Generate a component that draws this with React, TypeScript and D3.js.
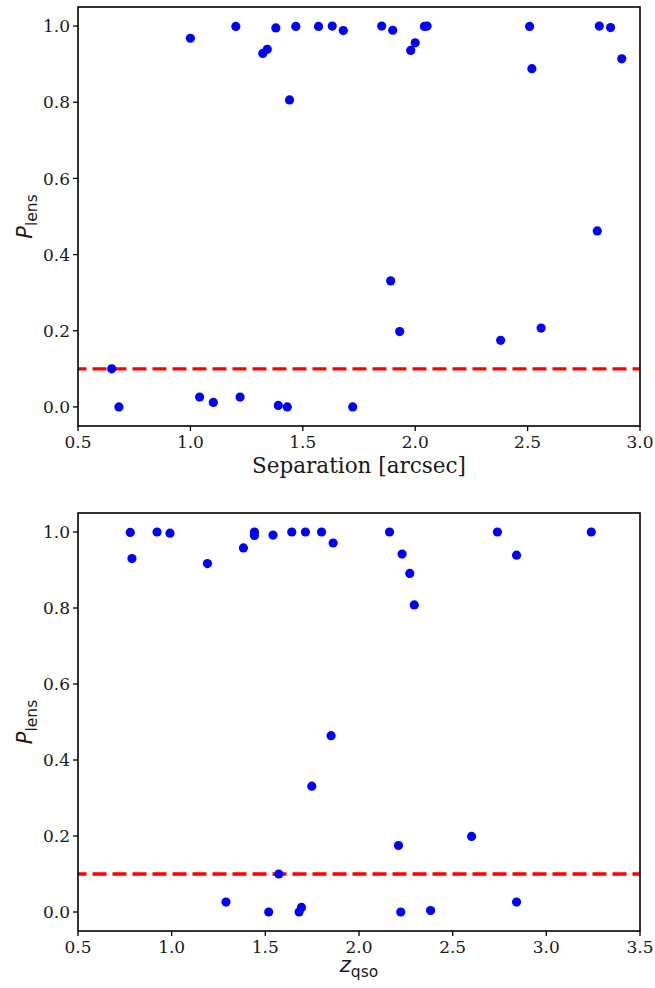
import React from "react";
import * as d3 from "d3";

const sepX = [0.650, 0.682, 1.000, 1.041, 1.102, 1.202, 1.221, 1.322, 1.342, 1.380, 1.391, 1.431, 1.441, 1.469, 1.570, 1.631, 1.680, 1.722, 1.851, 1.891, 1.900, 1.931, 1.980, 2.000, 2.041, 2.053, 2.380, 2.509, 2.519, 2.560, 2.810, 2.819, 2.869, 2.919];
const sepP = [0.100, 0.000, 0.968, 0.026, 0.012, 0.999, 0.026, 0.928, 0.939, 0.995, 0.004, 0.000, 0.806, 0.999, 0.999, 1.000, 0.988, 0.000, 1.000, 0.331, 0.989, 0.198, 0.936, 0.956, 0.999, 1.000, 0.175, 0.999, 0.888, 0.207, 0.462, 1.000, 0.996, 0.914];

const zX = [0.779, 0.788, 0.922, 0.991, 1.191, 1.290, 1.383, 1.442, 1.442, 1.518, 1.541, 1.572, 1.641, 1.680, 1.693, 1.714, 1.748, 1.800, 1.851, 1.862, 2.163, 2.211, 2.223, 2.230, 2.271, 2.295, 2.382, 2.601, 2.739, 2.841, 2.841, 3.240];
const zP = [0.999, 0.930, 1.000, 0.997, 0.917, 0.026, 0.958, 1.000, 0.991, 0.000, 0.992, 0.100, 1.000, 0.000, 0.012, 1.000, 0.331, 1.000, 0.464, 0.971, 1.000, 0.175, 0.000, 0.942, 0.891, 0.808, 0.004, 0.199, 1.000, 0.939, 0.026, 1.000];

const yTicks = [0.0, 0.2, 0.4, 0.6, 0.8, 1.0];
const sepTicks = [0.5, 1.0, 1.5, 2.0, 2.5, 3.0];
const zTicks = [0.5, 1.0, 1.5, 2.0, 2.5, 3.0, 3.5];
const threshold = 0.1;

const serif = "'DejaVu Serif', serif";
const sans = "'DejaVu Sans', sans-serif";
const ink = "#1a1a1a";

type PanelProps = {
  xs: number[];
  ps: number[];
  xDomain: [number, number];
  xTicks: number[];
  top: number;
  bottom: number;
  xLabel: React.ReactNode;
};

function Panel({ xs, ps, xDomain, xTicks, top, bottom, xLabel }: PanelProps) {
  const left = 78;
  const right = 640;
  const x = d3.scaleLinear().domain(xDomain).range([left, right]);
  const y = d3.scaleLinear().domain([-0.05, 1.05]).range([bottom, top]);
  const cy = (top + bottom) / 2;
  return (
    <g>
      <line
        x1={left}
        x2={right}
        y1={y(threshold)}
        y2={y(threshold)}
        stroke="#ff0000"
        strokeWidth={3.3}
        strokeDasharray="14 6"
        strokeDashoffset={5.5}
      />
      {xs.map((v, i) => (
        <circle key={i} cx={x(v)} cy={y(ps[i])} r={4.6} fill="#0000ff" />
      ))}
      <rect x={left} y={top} width={right - left} height={bottom - top} fill="none" stroke="#000" strokeWidth={1.6} />
      {xTicks.map((t) => (
        <g key={"x" + t}>
          <line x1={x(t)} x2={x(t)} y1={bottom} y2={bottom + 5} stroke="#000" strokeWidth={1.3} />
          <text x={x(t)} y={bottom + 22} textAnchor="middle" fontFamily={serif} fontSize={17} fill={ink}>
            {t.toFixed(1)}
          </text>
        </g>
      ))}
      {yTicks.map((t) => (
        <g key={"y" + t}>
          <line x1={left - 5} x2={left} y1={y(t)} y2={y(t)} stroke="#000" strokeWidth={1.3} />
          <text x={left - 8} y={y(t)} dy="0.36em" textAnchor="end" fontFamily={serif} fontSize={17} fill={ink}>
            {t.toFixed(1)}
          </text>
        </g>
      ))}
      <g transform={`translate(32,${cy}) rotate(-90)`}>
        <text textAnchor="middle" fontFamily={sans} fill={ink}>
          <tspan fontStyle="italic" fontSize={21}>P</tspan>
          <tspan fontSize={15.5} dy={4.5}>lens</tspan>
        </text>
      </g>
      {xLabel}
    </g>
  );
}

export default function App() {
  return (
    <svg
      width={655}
      height={988}
      viewBox="0 0 655 988"
      style={{ position: "absolute", left: 0, top: 0, background: "#fff" }}
    >
      <rect width={655} height={988} fill="#fff" />
      <Panel
        xs={sepX}
        ps={sepP}
        xDomain={[0.5, 3.0]}
        xTicks={sepTicks}
        top={7}
        bottom={426}
        xLabel={
          <text x={359} y={473} textAnchor="middle" fontFamily={serif} fontSize={21.5} fill={ink}>
            Separation [arcsec]
          </text>
        }
      />
      <Panel
        xs={zX}
        ps={zP}
        xDomain={[0.5, 3.5]}
        xTicks={zTicks}
        top={513}
        bottom={931}
        xLabel={
          <text x={359} y={972} textAnchor="middle" fontFamily={sans} fill={ink}>
            <tspan fontStyle="italic" fontSize={21}>z</tspan>
            <tspan fontSize={15.5} dy={4.5}>qso</tspan>
          </text>
        }
      />
    </svg>
  );
}
